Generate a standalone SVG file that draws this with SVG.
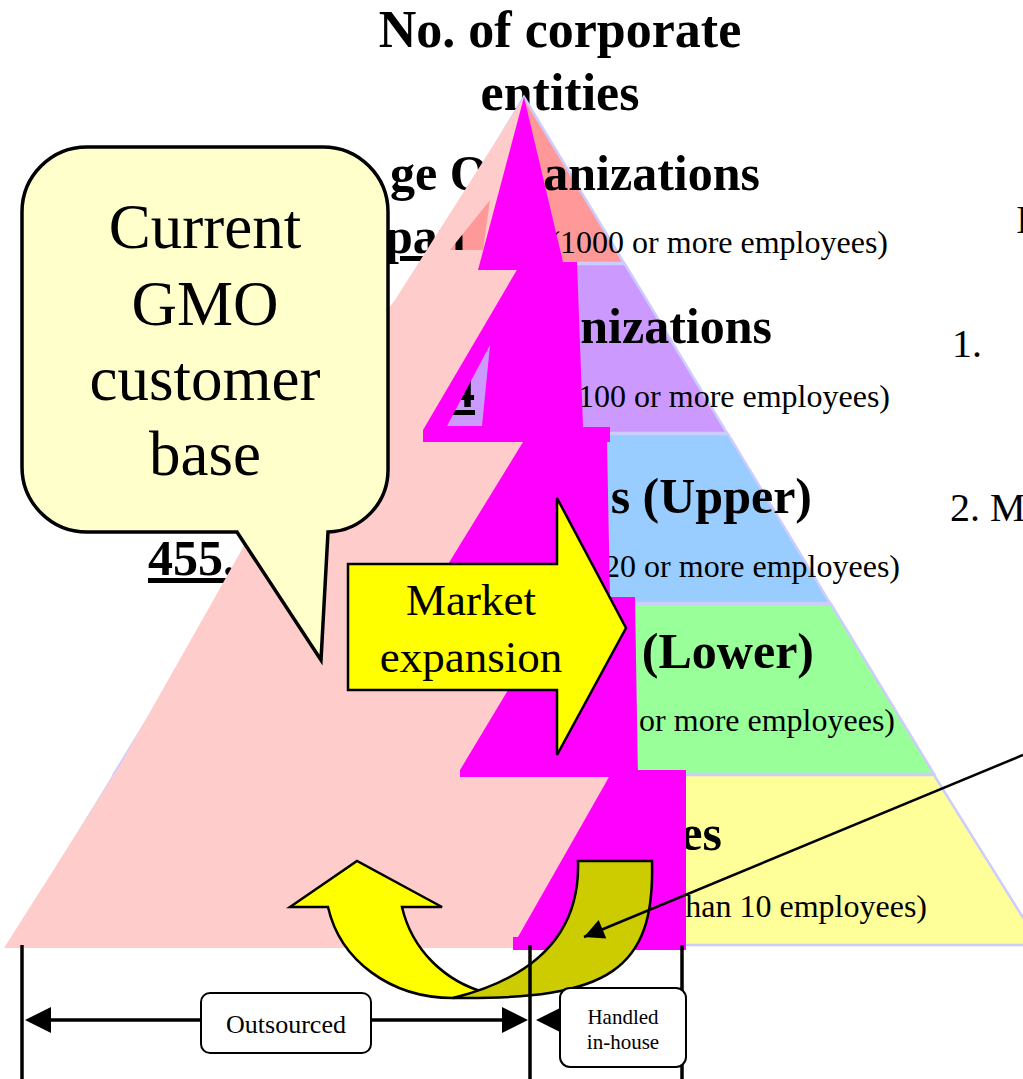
<svg xmlns="http://www.w3.org/2000/svg" width="1023" height="1079" viewBox="0 0 1023 1079">
  <style>
    .serif { font-family: "Liberation Serif", "Times New Roman", serif; fill: #000; }
    .title { font-size: 52px; font-weight: bold; }
    .head { font-size: 50px; font-weight: bold; }
    .sub { font-size: 32px; }
    .side { font-size: 40px; }
    .band { stroke: #CCCCFF; stroke-width: 2.5; }
    .mag { fill: #FF00FF; }
    .outline { stroke: #000; stroke-width: 2.5; stroke-linejoin: miter; }
    .dim { stroke: #000; stroke-width: 3.5; fill: none; }
    .box { fill: #FFFFFF; stroke: #000; stroke-width: 2; }
  </style>
  <defs>
    <marker id="arrowhead" viewBox="0 0 10 10" refX="10" refY="5" markerUnits="userSpaceOnUse" markerWidth="26" markerHeight="20" orient="auto">
      <path d="M0,0 L10,5 L0,10 Z" fill="#000"/>
    </marker>
  </defs>

  <rect width="1023" height="1079" fill="#FFFFFF"/>

  <!-- heading above the pyramid -->
  <g id="title" class="serif title" text-anchor="middle">
    <text x="560" y="47">No. of corporate</text>
    <text x="560" y="110">entities</text>
  </g>

  <!-- five bands of the corporate pyramid -->
  <g id="pyramid">
    <polygon class="band" fill="#FF9999" points="524,97 624,263 424,263"/>
    <polygon class="band" fill="#CC99FF" points="424,264 625,264 727,433 321,433"/>
    <polygon class="band" fill="#99CCFF" points="321,434 728,434 830,603 218,603"/>
    <polygon class="band" fill="#99FF99" points="218,604 831,604 934,774 114,774"/>
    <polygon class="band" fill="#FFFF99" points="114,775 934,775 1040,945 10,945"/>
  </g>

  <!-- band labels -->
  <g id="band-labels" class="serif">
    <text class="head" x="390" y="190">ge O</text>
    <text class="head" x="760" y="190" text-anchor="end">anizations</text>
    <text class="head" x="385" y="253" text-decoration="underline">pan</text>
    <text class="sub" x="888" y="253" text-anchor="end">(1000 or more employees)</text>

    <text class="head" x="772" y="343" text-anchor="end">nizations</text>
    <text class="head" x="450" y="407" text-decoration="underline">4</text>
    <text class="sub" x="890" y="407" text-anchor="end">100 or more employees)</text>

    <text class="head" x="812" y="513" text-anchor="end">s (Upper)</text>
    <text class="head" x="148" y="575" text-decoration="underline">455.</text>
    <text class="sub" x="900" y="577" text-anchor="end">20 or more employees)</text>

    <text class="head" x="814" y="668" text-anchor="end">(Lower)</text>
    <text class="sub" x="895" y="731" text-anchor="end">or more employees)</text>

    <text class="head" x="722" y="850" text-anchor="end">es</text>
    <text class="sub" x="927" y="917" text-anchor="end">han 10 employees)</text>
  </g>

  <!-- outsourced share (pink) -->
  <path id="outsourced-area" fill="#FFCCCC" fill-rule="evenodd"
        d="M524,97 L540,200 L520,268 L430,432 L540,436 L530,700 L500,768 L625,774 L560,948 L4,948 L120,765 L210,606 L241,551 L248,535 L300,420 L395,300 Z
           M490,200 L483,250 L450,250 Z"/>

  <!-- in-house share (magenta) -->
  <g id="inhouse-area" class="mag">
    <polygon points="524,97 563,262 577,262 577,270 478,270"/>
    <path fill-rule="evenodd" d="M518,268 L577,262 L583,427 L610,427 L610,442 L423,442 L423,430 Z M490,345 L447,426 L482,426 Z"/>
    <polygon points="523,442 607,442 610,597 635,597 638,777 460,777 460,770 535,645 420,610"/>
    <polygon points="609,777 638,770 686,770 686,950 513,950 513,937 518,937"/>
  </g>

  <!-- block arrow: market expansion -->
  <g id="market-expansion">
    <polygon class="outline" fill="#FFFF00" points="348,564 557,564 557,498 626,628 557,755 557,690 348,690"/>
    <g class="serif" font-size="45" text-anchor="middle">
      <text x="471" y="615">Market</text>
      <text x="471" y="672">expansion</text>
    </g>
  </g>

  <!-- speech callout -->
  <g id="customer-base">
    <path fill="#FFFFCC" stroke="#000" stroke-width="3.5" stroke-linejoin="miter"
          d="M87,147 H323 A65,65 0 0 1 388,212 V470 A62,62 0 0 1 328,532 L321,660 L237,532 H87 A65,65 0 0 1 22,467 V212 A65,65 0 0 1 87,147 Z"/>
    <g class="serif" font-size="63" text-anchor="middle">
      <text x="205" y="248">Current</text>
      <text x="205" y="325">GMO</text>
      <text x="205" y="400">customer</text>
      <text x="205" y="475">base</text>
    </g>
  </g>

  <!-- U-turn arrow -->
  <g id="u-turn">
    <path class="outline" fill="#FFFF00"
          d="M290,907 L357,861 L442,907 L402,907 C412,950 445,982 487,993 L453,998 C390,998 340,960 328,907 Z"/>
    <path class="outline" fill="#CCCC00"
          d="M578,861 L652,861 C655,970 610,1000 453,998 C545,975 580,925 578,861 Z"/>
  </g>

  <!-- connectors and dimension lines -->
  <g id="connectors">
    <line x1="1023" y1="755" x2="584" y2="937" stroke="#000" stroke-width="2.5" marker-end="url(#arrowhead)"/>

    <line class="dim" x1="22" y1="945" x2="22" y2="1079"/>
    <line class="dim" x1="530" y1="945" x2="530" y2="1079"/>
    <line class="dim" x1="682" y1="945" x2="682" y2="1079"/>

    <line class="dim" x1="40" y1="1020" x2="512" y2="1020"/>
    <polygon points="25,1020 51,1007 51,1033" fill="#000"/>
    <polygon points="528,1020 502,1007 502,1033" fill="#000"/>

    <line class="dim" x1="550" y1="1020" x2="665" y2="1020"/>
    <polygon points="536,1020 562,1007 562,1033" fill="#000"/>
  </g>

  <g id="outsourced-box">
    <rect class="box" x="201" y="993" width="170" height="60" rx="9"/>
    <text class="serif" font-size="26" x="286" y="1033" text-anchor="middle">Outsourced</text>
  </g>

  <g id="inhouse-box">
    <rect class="box" x="560" y="988" width="126" height="79" rx="10"/>
    <g class="serif" font-size="21" text-anchor="middle">
      <text x="623" y="1024">Handled</text>
      <text x="623" y="1049">in-house</text>
    </g>
  </g>

  <!-- notes on the right -->
  <g id="notes" class="serif side">
    <text x="1016" y="233">I</text>
    <text x="952" y="357">1.</text>
    <text x="950" y="521">2. M</text>
  </g>
</svg>
